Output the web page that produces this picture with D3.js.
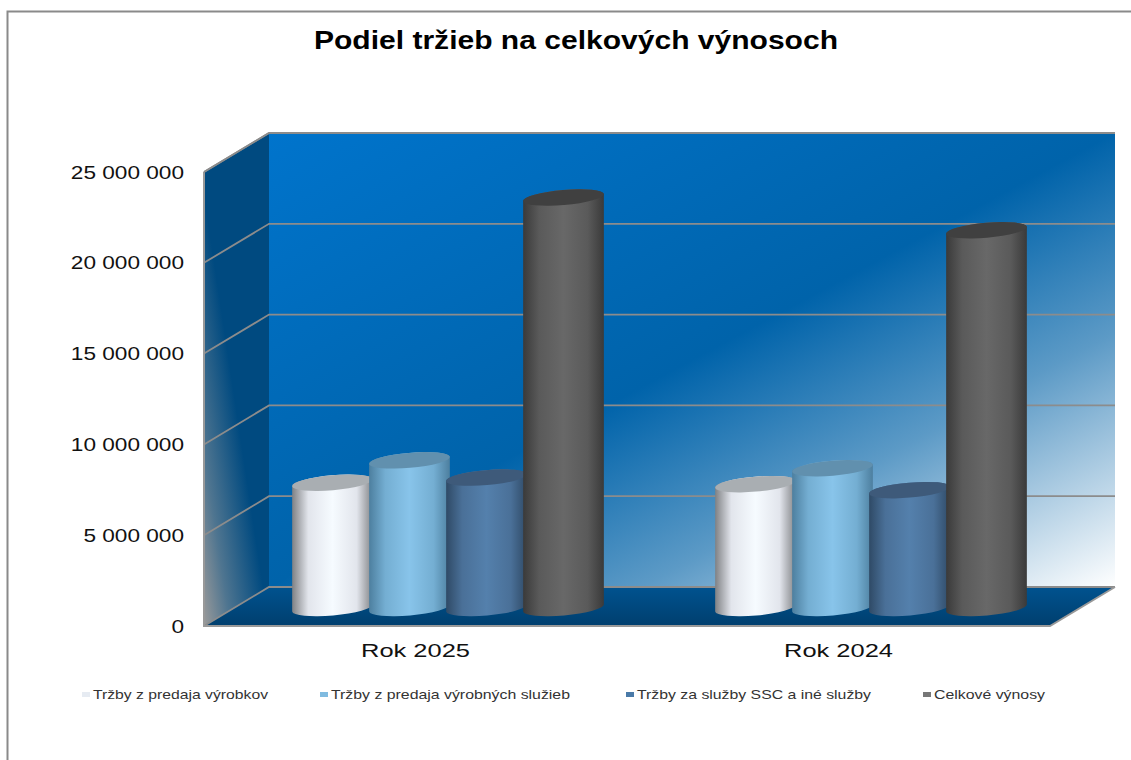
<!DOCTYPE html>
<html><head><meta charset="utf-8">
<script src="https://cdn.jsdelivr.net/npm/d3@7"></script>
<style>html,body{margin:0;padding:0;background:#fff}svg{display:block}text{font-family:"Liberation Sans",Arial,sans-serif}</style>
</head><body><svg id="c" width="1131" height="760"></svg>
<script>
const categories = ["Rok 2025","Rok 2024"];
const seriesNames = ["Tržby z predaja výrobkov","Tržby z predaja výrobných služieb","Tržby za služby SSC a iné služby","Celkové výnosy"];
const values2025 = [6900000,8130000,7180000,22600000];
const values2024 = [6820000,7700000,6490000,20800000];
const tickValues = [0,5000000,10000000,15000000,20000000,25000000];
const tickLabels = ["0","5 000 000","10 000 000","15 000 000","20 000 000","25 000 000"];
const seriesColors = [
 {e:"#7f8184",m1:"#e2e5ec",m:"#f6fbff",top:"#a9aeb2",leg:"#e6ebf2"},
 {e:"#4d7f9f",m1:"#74aed2",m:"#88c4ea",top:"#6190ae",leg:"#80bbe0"},
 {e:"#2f4a66",m1:"#4a7098",m:"#5480ac",top:"#3e5a7a",leg:"#4a7aa8"},
 {e:"#3a3a3a",m1:"#5a5a5a",m:"#686868",top:"#404040",leg:"#777777"}
];
const dataByCat = [values2025, values2024];

const svg = d3.select("#c");
const defs = svg.append("defs");
function grad(id,x1,y1,x2,y2,stops){
  const g=defs.append("linearGradient").attr("id",id).attr("x1",x1).attr("y1",y1).attr("x2",x2).attr("y2",y2);
  stops.forEach(s=>g.append("stop").attr("offset",s[0]).attr("stop-color",s[1]));
}
grad("back","0","0","1","1",[[0,"#0074cc"],[0.5,"#0063aa"],[0.72,"#5c9ac6"],[1,"#ffffff"]]);
grad("side","0.7","0.2","0","1",[[0,"#004a80"],[0.38,"#004a80"],[0.75,"#4f7590"],[1,"#9a9a9a"]]);
grad("floor","0","0","0","1",[[0,"#00528f"],[1,"#003f6e"]]);
seriesColors.forEach((c,i)=>{
  grad("cyl"+i,"0","0","1","0",[[0,c.e],[0.2,c.m1],[0.5,c.m],[0.8,c.m1],[1,c.e]]);
});

// frame
svg.append("path").attr("d","M7.5,760V11.5H1131").attr("fill","none").attr("stroke","#8a8a8a").attr("stroke-width",2);

const depthX=65, depthY=-39;
const y = d3.scaleLinear().domain([0,25000000]).range([626,172]);
const x0 = d3.scaleBand().domain(categories).range([204,1050]);

const L=x0.range()[0], R=x0.range()[1], Y0=y(0), Y1=y(25000000);
// back wall
svg.append("rect").attr("x",L+depthX).attr("y",Y1+depthY).attr("width",R-L).attr("height",Y0-Y1)
  .attr("fill","url(#back)");
// side wall
svg.append("path").attr("d",`M${L},${Y0}L${L+depthX},${Y0+depthY}V${Y1+depthY}L${L},${Y1}Z`).attr("fill","url(#side)");
// floor
svg.append("path").attr("d",`M${L},${Y0}L${L+depthX},${Y0+depthY}H${R+depthX}L${R},${Y0}Z`).attr("fill","url(#floor)");
// gridlines
svg.append("g").selectAll("path").data(tickValues).join("path")
  .attr("d",d=>`M${L},${y(d)}L${L+depthX},${y(d)+depthY}H${R+depthX}`)
  .attr("fill","none").attr("stroke","#8c8c8c").attr("stroke-width",1.8);
// edges
svg.append("path").attr("d",`M${L},${Y1}V${Y0}H${R}L${R+depthX},${Y0+depthY}`).attr("fill","none").attr("stroke","#999").attr("stroke-width",2);
svg.append("path").attr("d",`M${L},${Y1}L${L+depthX},${Y1+depthY}`).attr("fill","none").attr("stroke","#8c8c8c").attr("stroke-width",1.8);

function stretch(sel,k){ sel.each(function(){ const n=this.getComputedTextLength(); d3.select(this).attr("textLength",n*k).attr("lengthAdjust","spacingAndGlyphs"); }); }

// y labels
const yAxis = d3.axisLeft(y).tickValues(tickValues).tickFormat((d,i)=>tickLabels[i]).tickSize(0).tickPadding(20);
const ax = svg.append("g").attr("transform",`translate(${L},0)`).call(yAxis);
ax.select(".domain").remove();
ax.selectAll("text").attr("font-size",19).attr("fill","#111").style("font-family",'"Liberation Sans",Arial,sans-serif');
stretch(ax.selectAll("text"),1.19);

// cylinders
const rx0=40.5, ry=7.5, tilt=-5, step=77, baseOffset=-18;
const rad=tilt*Math.PI/180;
categories.forEach((cat,ci)=>{
  const g=svg.append("g");
  dataByCat[ci].forEach((v,si)=>{
    const cx = x0(cat)+x0.bandwidth()*0.5+(si-1.5)*step+depthX*0.5;
    const yb = y(v)+baseOffset;
    const ybase = y(0)+baseOffset;
    const ex = rx0*Math.cos(rad), ey = rx0*Math.sin(rad);
    g.append("path")
     .attr("d",`M${cx-ex},${yb-ey}L${cx-ex},${ybase-ey}A${rx0},${ry} ${tilt} 0 0 ${cx+ex},${ybase+ey}L${cx+ex},${yb+ey}A${rx0},${ry} ${tilt} 0 0 ${cx-ex},${yb-ey}Z`)
     .attr("fill",`url(#cyl${si})`);
    g.append("ellipse").attr("rx",rx0).attr("ry",ry)
     .attr("transform",`translate(${cx},${yb}) rotate(${tilt})`)
     .attr("fill",seriesColors[si].top);
  });
});

// category labels
const xAxis = d3.axisBottom(x0).tickSize(0).tickPadding(18);
const xa = svg.append("g").attr("transform",`translate(0,${Y0})`).call(xAxis);
xa.select(".domain").remove();
xa.selectAll("text").attr("font-size",19).attr("fill","#111").style("font-family",'"Liberation Sans",Arial,sans-serif');
stretch(xa.selectAll("text"),1.34);

// title
svg.append("text").attr("x",576).attr("y",49).attr("text-anchor","middle")
  .attr("font-size",25).attr("font-weight","bold").attr("fill","#000")
  .attr("textLength",524).attr("lengthAdjust","spacingAndGlyphs")
  .text("Podiel tržieb na celkových výnosoch");

// legend
const legX=[82,320,626,923], legW=[175,239,234,111];
seriesNames.forEach((n,i)=>{
  svg.append("rect").attr("x",legX[i]).attr("y",692).attr("width",8).attr("height",5).attr("fill",seriesColors[i].leg);
  svg.append("text").attr("x",legX[i]+11).attr("y",699).attr("font-size",13).attr("fill","#333")
    .attr("textLength",legW[i]).attr("lengthAdjust","spacingAndGlyphs").text(n);
});
</script></body></html>
